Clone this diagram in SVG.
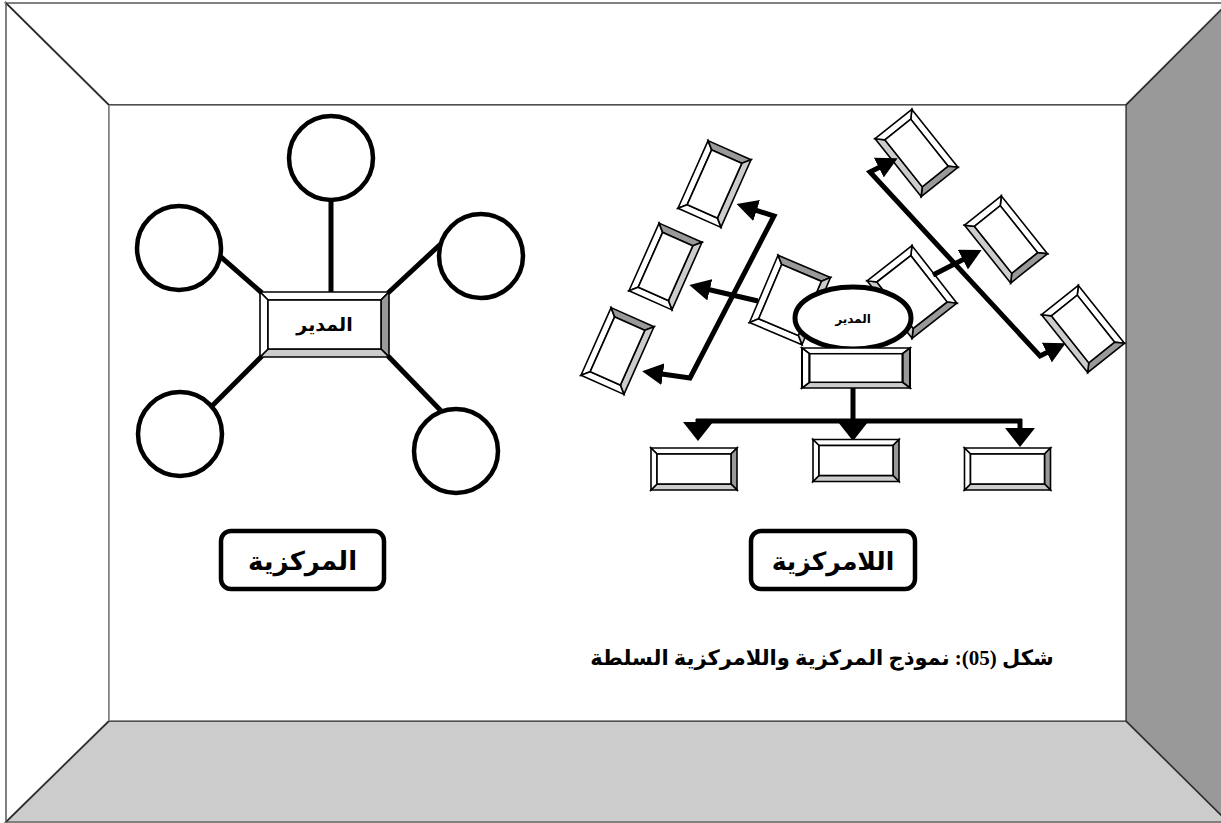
<svg xmlns="http://www.w3.org/2000/svg" width="1221" height="823" viewBox="0 0 1221 823">
  <style>
    .frame-edge { stroke: #808080; stroke-width: 2; }
    .frame-line { stroke: #222; stroke-width: 1.2; }
    .bv polygon, .bv rect { stroke: #000; stroke-width: 1.6; stroke-linejoin: miter; }
    .lt { fill: #fff; }
    .dk { fill: #999; }
    .md { fill: #ccc; }
    .spoke { stroke: #000; stroke-width: 5; fill: none; }
    .ring { fill: #fff; stroke: #000; stroke-width: 4.5; }
    .conn { stroke: #000; stroke-width: 5; fill: none; stroke-linejoin: miter; }
    .tag { fill: #fff; stroke: #000; stroke-width: 4.5; }
    .ar { font-family: 'DejaVu Sans', 'Noto Sans', sans-serif; font-weight: bold; fill: #000; text-anchor: middle; }
    .cap { font-family: 'Liberation Serif', 'DejaVu Sans', serif; font-weight: bold; fill: #000; text-anchor: middle; }
  </style>
  <defs>
    <!-- bevelled box, 74 x 47 -->
    <g id="bev-a" class="bv">
      <polygon class="lt" points="-37,-23.5 37,-23.5 30,-16.5 -30,-16.5"/>
      <polygon class="dk" points="37,-23.5 37,23.5 30,16.5 30,-16.5"/>
      <polygon class="md" points="37,23.5 -37,23.5 -30,16.5 30,16.5"/>
      <polygon class="lt" points="-37,23.5 -37,-23.5 -30,-16.5 -30,16.5"/>
      <rect class="lt" x="-30" y="-16.5" width="60" height="33"/>
    </g>
    <!-- bevelled box, 73 x 57 -->
    <g id="bev-b" class="bv">
      <polygon class="lt" points="-36.5,-28.5 36.5,-28.5 29.5,-21.5 -29.5,-21.5"/>
      <polygon class="dk" points="36.5,-28.5 36.5,28.5 29.5,21.5 29.5,-21.5"/>
      <polygon class="md" points="36.5,28.5 -36.5,28.5 -29.5,21.5 29.5,21.5"/>
      <polygon class="lt" points="-36.5,28.5 -36.5,-28.5 -29.5,-21.5 -29.5,21.5"/>
      <rect class="lt" x="-29.5" y="-21.5" width="59" height="43"/>
    </g>
    <!-- bevelled box, 86 x 42 -->
    <g id="bev-c" class="bv">
      <polygon class="lt" points="-43,-21 43,-21 37,-15 -37,-15"/>
      <polygon class="dk" points="43,-21 43,21 37,15 37,-15"/>
      <polygon class="md" points="43,21 -43,21 -37,15 37,15"/>
      <polygon class="lt" points="-43,21 -43,-21 -37,-15 -37,15"/>
      <rect class="lt" x="-37" y="-15" width="74" height="30"/>
    </g>
    <marker id="head" markerUnits="userSpaceOnUse" markerWidth="22" markerHeight="22" refX="8" refY="11" orient="auto-start-reverse">
      <path d="M0,0 L21,11 L0,22 Z" fill="#000"/>
    </marker>
    <marker id="head-down" markerUnits="userSpaceOnUse" markerWidth="20" markerHeight="30" refX="6" refY="15" orient="auto">
      <path d="M0,0 L19,15 L0,30 Z" fill="#000"/>
    </marker>
  </defs>

  <!-- picture frame -->
  <g id="frame">
    <polygon fill="#fff" class="frame-edge" points="6,3 109,105 109,721 6,822"/>
    <polygon fill="#fff" class="frame-edge" points="6,3 1228,3 1126,105 109,105"/>
    <polygon fill="#999" class="frame-edge" points="1228,3 1228,822 1126,721 1126,105"/>
    <polygon fill="#ccc" class="frame-edge" points="109,721 1126,721 1228,822 6,822"/>
    <rect x="109" y="105" width="1017" height="616" fill="#fff" stroke="none"/>
    <line class="frame-line" x1="6" y1="3" x2="109" y2="105"/>
    <line class="frame-line" x1="1228" y1="3" x2="1126" y2="105"/>
    <line class="frame-line" x1="1126" y1="721" x2="1228" y2="822"/>
    <line class="frame-line" x1="109" y1="721" x2="6" y2="822"/>
    <line class="frame-line" x1="109" y1="105" x2="1126" y2="105"/>
    <line class="frame-line" x1="1126" y1="105" x2="1126" y2="721"/>
    <line class="frame-line" x1="109" y1="721" x2="1126" y2="721"/>
    <line x1="109" y1="105" x2="109" y2="721" stroke="#808080" stroke-width="1.5"/>
  </g>

  <!-- centralised model: spokes -->
  <g id="central-spokes">
    <line class="spoke" x1="331" y1="190" x2="331" y2="292"/>
    <line class="spoke" x1="213" y1="250" x2="262" y2="293"/>
    <line class="spoke" x1="445" y1="240" x2="388" y2="293"/>
    <line class="spoke" x1="207" y1="411" x2="262" y2="356"/>
    <line class="spoke" x1="445" y1="415" x2="388" y2="356"/>
  </g>
  <g id="c-top"><circle class="ring" cx="331" cy="158" r="42"/></g>
  <g id="c-left-up"><circle class="ring" cx="179" cy="248" r="42"/></g>
  <g id="c-right-up"><circle class="ring" cx="481" cy="256" r="42"/></g>
  <g id="c-left-down"><circle class="ring" cx="180" cy="434" r="42"/></g>
  <g id="c-right-down"><circle class="ring" cx="456" cy="451" r="42"/></g>
  <g id="central-boss" class="bv">
    <polygon class="lt" points="260,292 389,292 381,300 268,300"/>
    <polygon class="dk" points="389,292 389,357 381,349 381,300"/>
    <polygon class="md" points="389,357 260,357 268,349 381,349"/>
    <polygon class="lt" points="260,357 260,292 268,300 268,349"/>
    <rect class="lt" x="268" y="300" width="113" height="49"/>
    <text class="ar" x="324.5" y="331" font-size="19">المدير</text>
  </g>

  <!-- decentralised model: units -->
  <g id="unit-a"><use href="#bev-a" transform="translate(714.5,184) rotate(-66)"/></g>
  <g id="unit-b"><use href="#bev-a" transform="translate(665.5,266.5) rotate(-66)"/></g>
  <g id="unit-c"><use href="#bev-a" transform="translate(617.5,351) rotate(-66)"/></g>
  <g id="unit-d"><use href="#bev-b" transform="translate(790,300) rotate(-67)"/></g>
  <g id="unit-e"><use href="#bev-a" transform="translate(916.5,153) rotate(51.5)"/></g>
  <g id="unit-f"><use href="#bev-a" transform="translate(1006,239.5) rotate(51.5)"/></g>
  <g id="unit-g"><use href="#bev-a" transform="translate(1083,329) rotate(51.5)"/></g>
  <g id="unit-h"><use href="#bev-b" transform="translate(912,292) rotate(52)"/></g>

  <!-- connectors -->
  <g id="connectors">
    <path class="conn" d="M749,208 L774,216 L690,378 L655,373" marker-start="url(#head)" marker-end="url(#head)"/>
    <path class="conn" d="M758,301 L702,288" marker-end="url(#head)"/>
    <path class="conn" d="M886,164 L870,172 L1040,356 L1054,349" marker-start="url(#head)" marker-end="url(#head)"/>
    <path class="conn" d="M933,275 L970,256" marker-end="url(#head)"/>
    <path class="conn" d="M853,386 V421"/>
    <path class="conn" d="M696,421 H1022"/>
    <path class="conn" d="M698,419 V428" marker-end="url(#head-down)"/>
    <path class="conn" d="M853,421 V428" marker-end="url(#head-down)"/>
    <path class="conn" d="M1020,419 V434" marker-end="url(#head-down)"/>
  </g>

  <g id="director">
    <ellipse cx="853" cy="318" rx="58" ry="31" fill="#fff" stroke="#000" stroke-width="5"/>
    <text class="ar" x="853" y="323" font-size="12">المدير</text>
  </g>
  <g id="head-office"><use href="#bev-c" transform="translate(856,368) scale(1.256,0.952)"/></g>
  <g id="branch-left"><use href="#bev-c" transform="translate(694,469)"/></g>
  <g id="branch-mid"><use href="#bev-c" transform="translate(856,460.5)"/></g>
  <g id="branch-right"><use href="#bev-c" transform="translate(1007.5,469)"/></g>

  <!-- captions -->
  <g id="label-central">
    <rect class="tag" x="221" y="531" width="163" height="58" rx="10"/>
    <text class="ar" x="302.5" y="570" font-size="26">المركزية</text>
  </g>
  <g id="label-decentral">
    <rect class="tag" x="751" y="531" width="164" height="58" rx="10"/>
    <text class="ar" x="833" y="570" font-size="25">اللامركزية</text>
  </g>
  <g id="figure-title">
    <text class="cap" x="822" y="665" font-size="21">شكل (05): نموذج المركزية واللامركزية السلطة</text>
  </g>
</svg>
